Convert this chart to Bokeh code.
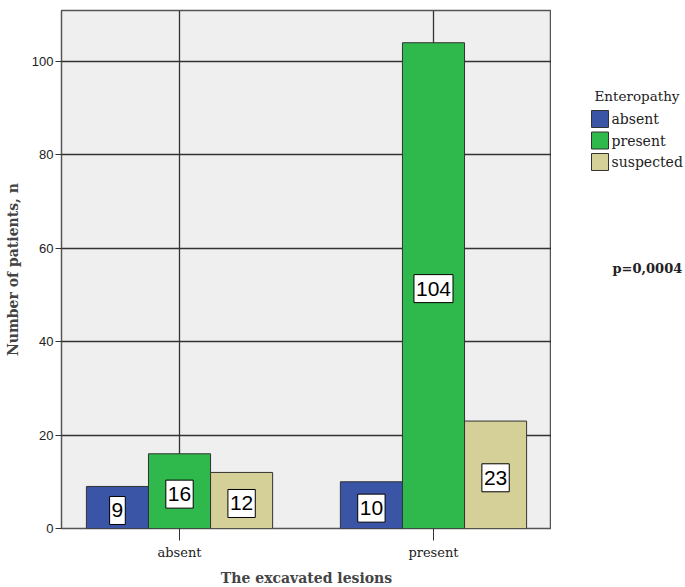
from bokeh.plotting import figure
from bokeh.layouts import row
from bokeh.models import ColumnDataSource, FactorRange, Range1d, FixedTicker
from bokeh.core.properties import value
from bokeh.transform import dodge
from bokeh.embed import file_html
from bokeh.resources import INLINE

# Counts of patients by excavated lesions (x) and enteropathy status (series)
lesions = ["absent", "present"]
enteropathy = ["absent", "present", "suspected"]
absent_counts = [9, 10]
present_counts = [16, 104]
suspected_counts = [12, 23]
y_ticks = [0, 20, 40, 60, 80, 100]
legend_title = "Enteropathy"
p_value_text = "p=0,0004"

colors = ["#3a55a6", "#2fb84b", "#d5cf98"]
series = [absent_counts, present_counts, suspected_counts]

serif = "DejaVu Serif"
sans = "Liberation Sans"

bar_w = 0.263
offsets = [-bar_w, 0.0, bar_w]

p = figure(
    x_range=FactorRange(factors=lesions, factor_padding=0.076, range_padding=0),
    y_range=Range1d(0, 110.9),
    frame_width=490, frame_height=518,
    min_border_left=61, min_border_top=10, min_border_right=0, min_border_bottom=59,
    output_backend="svg", toolbar_location=None,
)

p.background_fill_color = "#efefef"
p.border_fill_color = "white"
p.outline_line_color = "#555555"
p.outline_line_width = 1.5

for name, vals, col, off in zip(enteropathy, series, colors, offsets):
    src = ColumnDataSource(dict(cat=lesions, val=vals, half=[v / 2 for v in vals],
                                txt=[str(v) for v in vals]))
    p.vbar(x=dodge("cat", off, range=p.x_range), top="val", width=bar_w, source=src,
           fill_color=col, line_color="#333333", line_width=1)
    p.text(x=dodge("cat", off, range=p.x_range), y="half", text="txt", source=src,
           text_align="center", text_baseline="middle", y_offset=3,
           text_font=value(sans), text_font_size="21px", text_color="black",
           background_fill_color="white", border_line_color="black",
           border_line_width=1, padding=dict(left=2, right=2, top=7, bottom=7))

# grid
p.xgrid.grid_line_color = "#333333"
p.xgrid.grid_line_width = 1.3
p.ygrid.grid_line_color = "#333333"
p.ygrid.grid_line_width = 1.3
p.ygrid.ticker = FixedTicker(ticks=y_ticks)

# y axis
p.yaxis.ticker = FixedTicker(ticks=y_ticks)
p.yaxis.axis_label = "Number of patients, n"
p.yaxis.axis_label_text_font = serif
p.yaxis.axis_label_text_font_style = "bold"
p.yaxis.axis_label_text_font_size = "14px"
p.yaxis.axis_label_standoff = 8
p.yaxis.major_label_text_font = sans
p.yaxis.major_label_text_font_size = "13px"
p.yaxis.major_label_text_color = "#222222"
p.yaxis.major_label_standoff = 2
p.yaxis.major_tick_out = 6
p.yaxis.major_tick_in = 0
p.yaxis.minor_tick_line_color = None
p.yaxis.axis_line_color = None
p.yaxis.major_tick_line_color = "#333333"

# x axis
p.xaxis.axis_label = "The excavated lesions"
p.xaxis.axis_label_text_font = serif
p.xaxis.axis_label_text_font_style = "bold"
p.xaxis.axis_label_text_font_size = "14px"
p.xaxis.axis_label_standoff = 7
p.xaxis.major_label_text_font = serif
p.xaxis.major_label_text_font_size = "13px"
p.xaxis.major_label_text_color = "#222222"
p.xaxis.major_label_standoff = 4
p.xaxis.major_tick_out = 12
p.xaxis.major_tick_in = 0
p.xaxis.axis_line_color = None
p.xaxis.major_tick_line_color = "#333333"

# side panel with the legend and the test result; its ranges are in pixels,
# y growing downward, so the layout below reads like page positions
side = figure(
    x_range=Range1d(551, 685), y_range=Range1d(528, 10),
    frame_width=134, frame_height=518,
    min_border_left=0, min_border_right=0, min_border_top=10, min_border_bottom=59,
    x_axis_type=None, y_axis_type=None,
    output_backend="svg", toolbar_location=None,
)
side.outline_line_color = None
side.background_fill_color = "white"
side.border_fill_color = "white"
side.grid.visible = False

sw_left, sw_size, row0, pitch = 591, 17, 118.5, 21.5
rows = [row0 + i * pitch for i in range(len(enteropathy))]
side.quad(left=[sw_left] * 3, right=[sw_left + sw_size] * 3,
          top=[r - sw_size / 2 for r in rows], bottom=[r + sw_size / 2 for r in rows],
          fill_color=colors, line_color="#333333", line_width=1)
side.text(x=[sw_left + sw_size + 3] * 3, y=rows, text=enteropathy,
          text_font=value(serif), text_font_size="14px", text_color="#222222",
          text_baseline="middle", text_align="left")
side.text(x=[594], y=[95], text=[legend_title],
          text_font=value(serif), text_font_size="13.5px", text_color="#222222",
          text_baseline="middle", text_align="left")
side.text(x=[612], y=[268], text=[p_value_text],
          text_font=value(serif), text_font_style="bold", text_font_size="13px",
          text_color="#222222", text_baseline="middle", text_align="left")

layout = row(p, side, spacing=0)
open("out.html", "w").write(file_html(layout, INLINE))
